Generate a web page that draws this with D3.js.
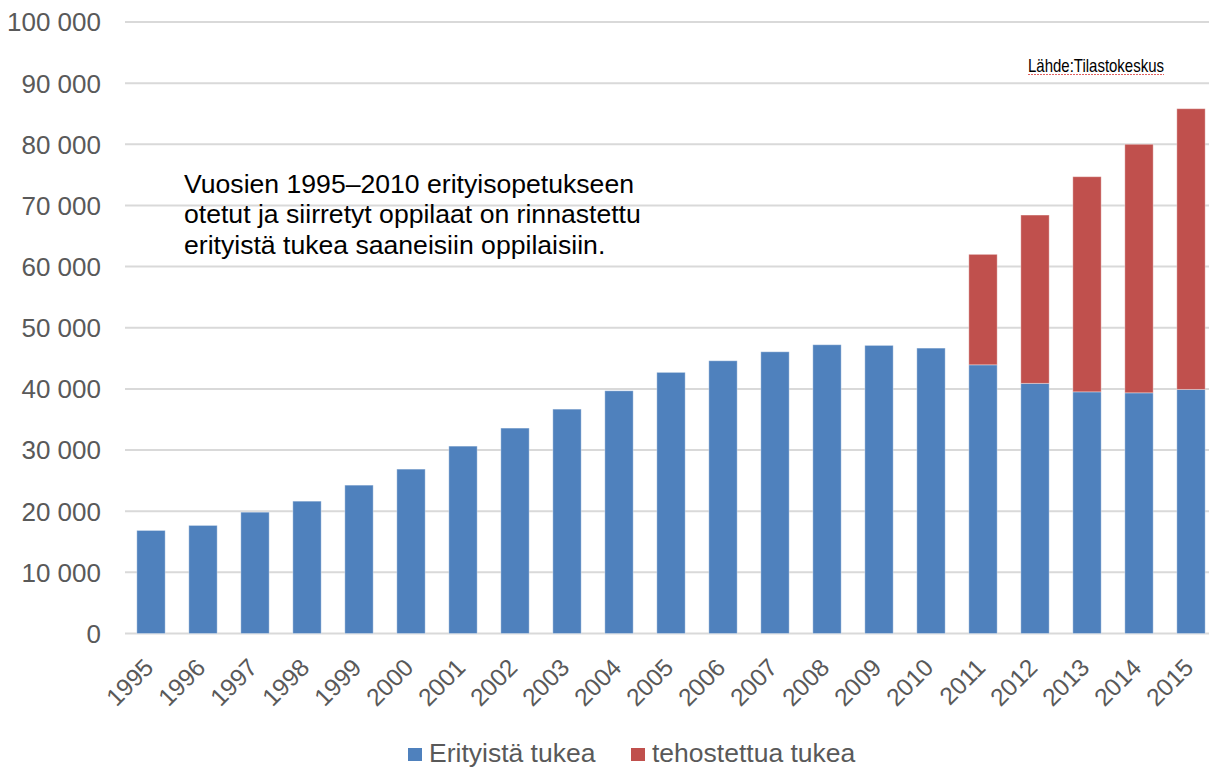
<!DOCTYPE html>
<html><head><meta charset="utf-8">
<script src="https://cdn.jsdelivr.net/npm/d3@7"></script>
<style>body{margin:0;background:#fff}svg{display:block;font-family:"Liberation Sans",Arial,sans-serif}</style>
</head><body><svg id="c" width="1209" height="767"></svg>
<script>
const years = ["1995","1996","1997","1998","1999","2000","2001","2002","2003","2004","2005","2006","2007","2008","2009","2010","2011","2012","2013","2014","2015"];
const erityista = [16850,17670,19840,21640,24260,26880,30640,33590,36690,39690,42700,44600,46070,47220,47110,46670,43940,40900,39520,39360,39910];
const tehostettu = [0,0,0,0,0,0,0,0,0,0,0,0,0,0,0,0,18060,27530,35180,40640,45910];
const yTicks = [0,10000,20000,30000,40000,50000,60000,70000,80000,90000,100000];
const seriesNames = ["Erityistä tukea","tehostettua tukea"];
const colors = ["#4F81BD","#C0504D"];
const noteLines = ["Vuosien 1995–2010 erityisopetukseen","otetut ja siirretyt oppilaat on rinnastettu","erityistä tukea saaneisiin oppilaisiin."];
const source = "Lähde:Tilastokeskus";

const svg = d3.select("#c");
const x = d3.scaleBand().domain(years).range([125,1217]).paddingInner(0.455).paddingOuter(0.2275);
const y = d3.scaleLinear().domain([0,100000]).range([633.5,22]);
const fmt = v => d3.format(",")(v).replace(/,/g," ");

// gridlines
svg.append("g").selectAll("line").data(yTicks).join("line")
  .attr("x1",125).attr("x2",1209).attr("y1",d=>y(d)).attr("y2",d=>y(d))
  .attr("stroke","#d9d9d9").attr("stroke-width",2);

// y labels
svg.append("g").selectAll("text").data(yTicks).join("text")
  .attr("x",101).attr("y",d=>y(d)).attr("dy","0.36em").attr("text-anchor","end")
  .attr("font-size",26).attr("fill","#595959").text(d=>fmt(d));

// stacked bars
const data = years.map((yr,i)=>({year:yr, a:erityista[i], b:tehostettu[i]}));
const stack = d3.stack().keys(["a","b"])(data);
svg.append("g").selectAll("g").data(stack).join("g")
  .attr("fill",(d,i)=>colors[i])
  .selectAll("rect").data(d=>d.filter(p=>p[1]>p[0])).join("rect")
  .attr("x",d=>x(d.data.year)).attr("width",x.bandwidth())
  .attr("y",d=>y(d[1])).attr("height",d=>y(d[0])-y(d[1]))
  .attr("stroke","rgba(255,255,255,0.35)").attr("stroke-width",1);

// x labels
svg.append("g").selectAll("text").data(years).join("text")
  .attr("transform",d=>`translate(${x(d)+x.bandwidth()/2+4},${669}) rotate(-45)`)
  .attr("text-anchor","end").attr("font-size",24.5).attr("fill","#595959").text(d=>d);

// annotation
svg.append("g").selectAll("text").data(noteLines).join("text")
  .attr("x",184).attr("y",(d,i)=>192.5+i*30.5).attr("font-size",26.6).attr("fill","#000").text(d=>d);

// source
svg.append("text").attr("x",1028).attr("y",71.5).attr("font-size",19)
  .attr("textLength",136).attr("lengthAdjust","spacingAndGlyphs").attr("fill","#000").text(source);
svg.append("line").attr("x1",1028).attr("x2",1164).attr("y1",74.5).attr("y2",74.5)
  .attr("stroke","#e06060").attr("stroke-width",1).attr("stroke-dasharray","2,1");

// legend
const lx = [408,631];
const lg = svg.append("g").selectAll("g").data(seriesNames).join("g")
  .attr("transform",(d,i)=>`translate(${lx[i]},0)`);
lg.append("rect").attr("x",0).attr("y",748).attr("width",14).attr("height",13).attr("fill",(d,i)=>colors[i]);
lg.append("text").attr("x",21).attr("y",762).attr("font-size",26.5).attr("fill","#595959").text(d=>d);
</script></body></html>
